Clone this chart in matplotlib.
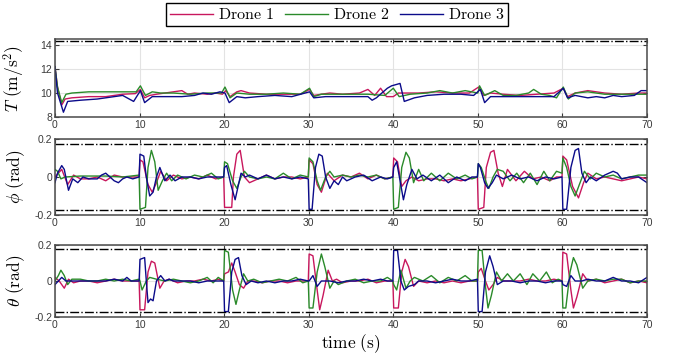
import numpy as np
import matplotlib
matplotlib.use("Agg")
import matplotlib.pyplot as plt

plt.rcParams['mathtext.fontset'] = 'cm'
plt.rcParams['font.family'] = ['Liberation Sans', 'DejaVu Sans']
plt.rcParams['axes.unicode_minus'] = False

# Drone colours and legend names
colors = ['#c8175d', '#2a8a2a', '#0b0b8a']
names = [r'$\mathrm{Drone\ 1}$', r'$\mathrm{Drone\ 2}$', r'$\mathrm{Drone\ 3}$']

# thrust T (m/s^2), (time, value) knots
thrust_d1 = [(0, 12.2), (0.3, 10.5), (0.8, 9.0), (1.2, 9.5), (2, 9.6), (4, 9.7), (6, 9.7), (8, 9.9),
             (9.5, 9.95), (10.1, 10.3), (10.6, 9.6), (11.2, 9.8), (12, 9.9), (13, 10.0), (14, 10.1),
             (15, 10.2), (15.7, 9.9), (16.5, 10.0), (18, 9.9), (19, 10.0), (19.8, 9.9), (20.2, 10.2),
             (20.7, 9.7), (21.5, 10.1), (22, 10.2), (23, 10.0), (25, 9.9), (27, 9.9), (29, 9.9),
             (30.1, 10.3), (30.6, 9.8), (31.5, 9.9), (32.5, 10.0), (34, 9.9), (36, 10.0), (37, 10.3),
             (37.8, 9.8), (38.5, 10.4), (39.2, 9.7), (40, 9.7), (40.6, 10.0), (41.5, 10.0), (43, 10.0),
             (45, 10.1), (47, 10.0), (49, 10.0), (50.1, 10.5), (50.7, 9.8), (51.5, 10.0), (53, 9.9),
             (55, 9.8), (57, 9.9), (59, 10.0), (60.1, 10.4), (60.6, 9.7), (61.5, 10.0), (63, 10.2),
             (65, 10.0), (67, 9.9), (69, 10.0), (70, 10.0)]
thrust_d2 = [(0, 12.2), (0.3, 10.5), (0.8, 9.2), (1.3, 9.9), (2, 10.0), (4, 10.1), (6, 10.1), (8, 10.1),
             (9.6, 10.1), (10.1, 10.6), (10.7, 9.8), (11.5, 10.1), (12.5, 10.0), (14, 10.0), (16, 9.9),
             (18, 10.0), (19.7, 10.0), (20.1, 10.5), (20.7, 9.6), (21.5, 10.0), (23, 9.9), (25, 9.9),
             (27, 10.0), (29, 9.9), (30.1, 10.4), (30.6, 9.7), (31.5, 9.9), (33, 9.9), (35, 9.9),
             (37, 9.9), (39, 9.8), (40, 10.4), (40.7, 9.7), (42, 9.9), (44, 10.0), (45.5, 10.2),
             (47, 10.0), (48.5, 10.2), (50, 10.0), (50.2, 10.6), (50.8, 9.8), (52, 10.2), (53, 9.8),
             (54.5, 9.8), (56, 10.0), (56.6, 10.3), (57.5, 9.9), (58.5, 9.8), (59.3, 9.6), (60.1, 10.5),
             (60.7, 9.5), (61.5, 10.0), (63, 10.1), (65, 9.9), (67, 9.9), (69, 9.9), (70, 9.9)]
thrust_d3 = [(0, 12.2), (0.3, 10.0), (1.0, 8.4), (1.5, 9.3), (3, 9.4), (5, 9.5), (7, 9.7), (8, 9.8),
             (9.3, 9.3), (10.1, 10.2), (10.6, 9.2), (11.5, 9.7), (13, 9.7), (15, 9.7), (16.5, 9.8),
             (17.5, 10.0), (18.5, 9.9), (19.5, 10.1), (20.1, 10.0), (20.6, 9.2), (21.5, 9.7), (22.5, 9.6),
             (24, 9.7), (26, 9.8), (28, 9.7), (30.1, 10.1), (30.6, 9.6), (32, 9.7), (34, 9.7), (36, 9.7),
             (37, 9.7), (37.5, 9.4), (38, 9.6), (39.3, 10.4), (39.8, 10.6), (40.3, 10.7), (40.8, 10.8),
             (41.3, 9.3), (42.5, 9.6), (44, 9.8), (46, 9.9), (48, 9.9), (49.5, 9.8), (50.3, 10.3),
             (50.8, 9.2), (51.5, 9.7), (53, 9.7), (55, 9.7), (57, 9.7), (59, 9.7), (60.1, 10.4),
             (60.6, 9.6), (61.5, 9.8), (63, 9.6), (64, 9.7), (65, 9.6), (66, 9.8), (67, 9.7),
             (68.5, 9.8), (69.3, 10.2), (70, 10.2)]

# roll phi (rad)
phi_d1 = [(0, 0.0), (0.4, 0.02), (0.8, 0.04), (1.5, -0.04), (2.2, 0.01), (3, -0.01), (4, -0.01), (5, 0.0),
          (6, -0.02), (7, 0.01), (8, 0.0), (9, 0.0), (9.95, 0.0), (10.05, 0.09), (10.4, 0.08), (11.0, -0.04),
          (11.5, -0.08), (12.0, -0.03), (12.5, 0.03), (13.2, -0.02), (14, 0.01), (15, -0.01), (16, 0.0),
          (17, -0.01), (18, 0.01), (19, -0.01), (19.95, 0.0), (20.05, -0.16), (20.9, -0.16), (21.1, 0.0),
          (21.5, 0.12), (21.9, 0.14), (22.4, 0.0), (23, -0.03), (24, -0.01), (25, 0.01), (26, -0.01),
          (27, 0.0), (28, 0.0), (29, -0.01), (29.95, 0.0), (30.05, 0.09), (30.5, 0.07), (31.0, -0.04),
          (31.5, -0.08), (32.2, 0.02), (33, -0.02), (34, 0.01), (35, 0.0), (36, 0.02), (37, -0.01),
          (38, 0.01), (39, -0.01), (39.95, 0.0), (40.05, 0.10), (40.5, 0.08), (41.0, -0.05), (41.5, -0.02),
          (42.2, 0.0), (43, -0.02), (44, -0.01), (45, -0.01), (46, -0.02), (47, -0.01), (48, -0.02),
          (49, -0.01), (49.95, 0.0), (50.05, -0.17), (50.7, -0.16), (51.0, 0.05), (51.5, 0.13), (51.9, 0.14),
          (52.4, 0.02), (52.9, -0.05), (53.5, 0.04), (54.5, -0.02), (55.5, 0.03), (56.5, -0.01), (57.5, 0.0),
          (58.5, -0.02), (59.3, 0.0), (59.95, 0.0), (60.05, 0.11), (60.5, 0.09), (61.2, -0.05), (61.9, -0.11),
          (62.5, -0.03), (63, 0.02), (64, -0.01), (65, 0.0), (66, -0.01), (67, -0.02), (68, -0.01),
          (69, 0.0), (70, -0.01)]
phi_d2 = [(0, 0.04), (0.3, 0.03), (0.7, -0.01), (1.2, 0.0), (3, 0.005), (6, 0.005), (8, 0.0), (9, 0.005),
          (9.95, 0.01), (10.05, -0.17), (10.7, -0.16), (11.0, 0.05), (11.4, 0.14), (11.8, 0.08), (12.2, -0.07),
          (12.7, -0.02), (13.2, 0.02), (13.8, -0.02), (14.5, 0.01), (15.5, -0.01), (16.5, 0.01), (17.5, 0.0),
          (18.5, 0.02), (19.3, -0.01), (19.95, 0.0), (20.05, 0.08), (20.4, 0.07), (21.0, -0.02), (21.5, -0.06),
          (22.0, 0.0), (22.4, 0.03), (23, 0.0), (24, -0.01), (25, 0.0), (26, -0.01), (27, 0.02), (28, -0.01),
          (29, 0.01), (29.95, 0.0), (30.05, 0.10), (30.5, 0.08), (31.0, -0.02), (31.4, -0.07), (32.0, 0.0),
          (32.5, 0.03), (33, 0.0), (34, 0.01), (35, 0.0), (36, 0.01), (37, 0.0), (38, 0.01), (39, -0.01),
          (39.95, 0.0), (40.05, -0.17), (40.6, -0.16), (41.0, 0.05), (41.5, 0.13), (41.9, 0.1), (42.4, -0.03),
          (43, 0.04), (43.6, -0.02), (44.5, 0.02), (45.5, -0.02), (46.5, 0.02), (47.5, -0.01), (48.5, 0.01),
          (49.3, -0.01), (49.95, 0.0), (50.05, 0.07), (50.4, 0.05), (51.0, -0.03), (51.3, -0.06), (51.8, 0.0),
          (52.3, 0.04), (53, 0.03), (53.8, -0.02), (54.6, 0.02), (55.4, -0.03), (56.2, 0.02), (57, -0.04),
          (57.8, 0.03), (58.5, -0.02), (59.3, 0.03), (59.95, 0.02), (60.05, 0.10), (60.5, 0.05), (61.0, -0.05),
          (61.5, -0.10), (62.0, -0.04), (62.6, 0.03), (63.3, -0.01), (64, 0.02), (65, 0.0), (66, 0.01),
          (67, -0.01), (68, 0.0), (69, 0.01), (70, 0.01)]
phi_d3 = [(0, -0.03), (0.3, 0.02), (0.8, 0.06), (1.1, 0.04), (1.6, -0.07), (2.1, -0.01), (2.7, -0.03),
          (3.3, 0.0), (4, -0.01), (5, -0.01), (5.5, 0.01), (6, 0.02), (6.5, 0.0), (7, -0.02), (7.5, -0.03),
          (8, -0.01), (8.5, 0.0), (9.2, -0.01), (9.95, 0.0), (10.05, 0.12), (10.5, 0.11), (10.8, 0.0),
          (11.2, -0.10), (11.6, -0.08), (12.0, 0.0), (12.4, 0.05), (13.0, -0.02), (13.6, 0.01), (14.2, -0.02),
          (15, 0.0), (16, 0.0), (17, -0.01), (18, 0.0), (19, 0.0), (19.95, 0.0), (20.05, 0.05), (20.3, 0.06),
          (20.8, -0.04), (21.3, -0.12), (21.6, -0.06), (22.0, 0.02), (22.5, 0.0), (23, 0.01), (24, -0.01),
          (25, 0.01), (26, -0.01), (27, 0.0), (28, -0.01), (29, 0.0), (29.95, -0.01), (30.05, -0.17),
          (30.4, -0.17), (30.8, 0.05), (31.2, 0.12), (31.6, 0.11), (32.0, 0.0), (32.5, -0.06), (33, -0.02),
          (33.5, -0.04), (34, 0.0), (34.5, -0.02), (35.5, 0.0), (36.5, 0.01), (37.5, -0.02), (38.5, 0.0),
          (39.3, -0.01), (39.95, 0.0), (40.05, 0.05), (40.4, 0.08), (40.8, -0.02), (41.2, -0.12), (41.6, -0.04),
          (42.2, 0.04), (42.8, -0.01), (43.5, 0.01), (44.5, -0.02), (45.5, 0.01), (46.5, -0.03), (47.5, 0.0),
          (48.5, -0.02), (49.3, 0.0), (49.95, 0.0), (50.05, 0.07), (50.3, 0.05), (50.8, -0.03), (51.2, -0.06),
          (51.7, -0.03), (52.2, 0.01), (53, -0.01), (54, 0.01), (55, -0.01), (56, 0.0), (57, -0.02), (58, 0.0),
          (59, -0.01), (59.95, 0.0), (60.05, -0.17), (60.5, -0.17), (61.0, 0.05), (61.5, 0.14), (61.9, 0.15),
          (62.3, 0.02), (62.8, -0.03), (63.3, 0.0), (64, -0.02), (65, 0.01), (66, 0.03), (66.5, 0.02),
          (67, -0.01), (68, 0.0), (69, 0.0), (70, -0.03)]

# pitch theta (rad)
theta_d1 = [(0, 0.02), (0.5, 0.0), (1.1, -0.04), (1.6, 0.01), (2.2, -0.01), (3, 0.0), (4, 0.0), (5, -0.01),
            (6, 0.0), (7, 0.01), (8, 0.0), (9, 0.0), (9.95, 0.0), (10.05, -0.16), (10.6, -0.16), (11.0, 0.05),
            (11.4, 0.11), (11.8, 0.1), (12.4, -0.04), (12.9, 0.0), (13.5, 0.01), (14.5, -0.01), (15.5, 0.0),
            (16.5, 0.0), (17.5, 0.01), (18.5, 0.0), (19.3, 0.01), (19.95, 0.0), (20.05, 0.04), (20.5, 0.05),
            (20.9, 0.1), (21.3, 0.05), (21.8, -0.02), (22.3, -0.04), (22.8, 0.0), (23.5, 0.0), (24.5, -0.01),
            (25.5, 0.0), (26.5, 0.0), (27.5, -0.01), (28.5, 0.0), (29.3, 0.0), (29.95, 0.0), (30.05, 0.15),
            (30.5, 0.14), (31.0, -0.05), (31.3, -0.16), (31.7, -0.08), (32.3, 0.06), (32.8, 0.0), (33.3, 0.01),
            (34, -0.01), (35, 0.0), (36, 0.0), (37, 0.01), (38, -0.01), (39, 0.0), (39.95, 0.0), (40.05, -0.15),
            (40.6, -0.15), (41.0, 0.05), (41.4, 0.12), (41.8, 0.08), (42.4, -0.03), (43, 0.0), (44, -0.01),
            (45, 0.0), (46, -0.01), (47, 0.0), (48, -0.01), (49, 0.0), (49.95, 0.0), (50.05, 0.05), (50.4, 0.07),
            (50.9, 0.0), (51.3, -0.05), (51.8, -0.02), (52.3, 0.02), (53, 0.0), (54, 0.0), (55, 0.0), (56, 0.01),
            (57, 0.0), (58, 0.0), (59, 0.01), (59.95, 0.0), (60.05, 0.16), (60.5, 0.15), (61.0, -0.05),
            (61.3, -0.15), (61.7, -0.09), (62.4, 0.04), (63, 0.0), (64, 0.01), (65, -0.01), (66, 0.0),
            (67, 0.01), (68, -0.01), (69, 0.0), (70, -0.01)]
theta_d2 = [(0, 0.0), (0.4, 0.03), (0.7, 0.06), (1.1, 0.03), (1.5, -0.02), (2, 0.01), (3, 0.01), (4, 0.0),
            (5, 0.0), (6, 0.01), (7, 0.0), (8, 0.01), (9, 0.0), (9.95, 0.01), (10.05, 0.0), (10.3, -0.05),
            (10.8, 0.0), (11.2, 0.02), (12, 0.01), (13, 0.0), (14, 0.01), (15, 0.0), (16, -0.01), (17, 0.0),
            (18, 0.02), (18.7, -0.01), (19.3, 0.02), (19.95, 0.0), (20.05, 0.17), (20.5, 0.16), (21.0, -0.05),
            (21.4, -0.13), (21.8, -0.05), (22.3, 0.04), (22.8, 0.0), (23.5, 0.01), (24.5, -0.01), (25.5, 0.0),
            (26.5, 0.01), (27.5, 0.0), (28.5, 0.02), (29.3, -0.01), (29.95, 0.0), (30.05, -0.15), (30.5, -0.15),
            (31.0, 0.05), (31.5, 0.15), (31.9, 0.08), (32.5, -0.04), (33, 0.0), (33.5, -0.02), (34.5, 0.0),
            (35.5, 0.01), (36.5, -0.01), (37.5, 0.0), (38.5, 0.0), (39.3, 0.02), (39.95, 0.0), (40.05, -0.02),
            (40.4, -0.05), (40.9, 0.06), (41.5, -0.04), (42.0, 0.0), (42.5, 0.02), (43.5, 0.0), (44.5, 0.03),
            (45.5, -0.01), (46.5, 0.02), (47.5, 0.0), (48.5, 0.03), (49.3, 0.0), (49.95, 0.0), (50.05, 0.17),
            (50.5, 0.17), (50.9, -0.03), (51.2, -0.15), (51.6, -0.08), (52.2, 0.05), (52.8, 0.0), (53.5, 0.04),
            (54.2, 0.0), (55, 0.04), (55.8, -0.02), (56.5, 0.04), (57.3, 0.0), (58.1, 0.05), (58.8, -0.01),
            (59.5, 0.01), (59.95, 0.0), (60.05, -0.15), (60.4, -0.15), (60.9, 0.05), (61.3, 0.13), (61.7, 0.09),
            (62.4, -0.04), (63, 0.0), (64, 0.01), (65, 0.0), (66, 0.01), (67, 0.01), (68, -0.01), (69, 0.0),
            (70, 0.0)]
theta_d3 = [(0, -0.02), (0.4, 0.0), (0.8, 0.02), (1.3, 0.0), (2, 0.0), (3, 0.0), (4, 0.0), (5, 0.0), (6, 0.0),
            (7, 0.01), (8, 0.0), (8.5, 0.02), (9, 0.0), (9.95, 0.0), (10.05, 0.12), (10.6, 0.13), (10.8, 0.0),
            (11.0, -0.12), (11.3, -0.10), (11.6, -0.11), (12.0, 0.0), (12.5, 0.03), (13, 0.0), (13.5, 0.01),
            (14, 0.0), (15, 0.0), (16, 0.0), (17, -0.01), (18, 0.0), (19, 0.0), (19.95, 0.0), (20.05, -0.17),
            (20.5, -0.17), (20.9, 0.05), (21.3, 0.12), (21.7, 0.13), (22.1, 0.03), (22.6, -0.02), (23.2, 0.0),
            (24, -0.01), (25, 0.0), (26, -0.01), (27, 0.0), (28, 0.0), (29, 0.01), (29.95, 0.0), (30.05, 0.0),
            (30.5, 0.03), (31.0, -0.03), (31.5, 0.0), (32.5, 0.0), (33.5, -0.01), (34.5, 0.0), (35.5, 0.0),
            (36.5, 0.01), (37.5, 0.0), (38.5, 0.01), (39.3, 0.0), (39.95, 0.0), (40.05, 0.17), (40.5, 0.17),
            (40.9, 0.0), (41.3, -0.05), (41.8, -0.03), (42.5, -0.02), (43, 0.0), (44, 0.0), (45, -0.01),
            (46, 0.0), (47, 0.01), (48, 0.0), (49, 0.0), (49.95, 0.01), (50.05, -0.17), (50.5, -0.17),
            (50.9, 0.05), (51.4, 0.14), (51.8, 0.08), (52.3, -0.02), (53, 0.0), (54, 0.0), (55, -0.01), (56, 0.0),
            (57, 0.0), (58, -0.01), (59, 0.0), (59.95, 0.0), (60.05, -0.02), (60.5, -0.03), (61.0, 0.03),
            (61.5, 0.0), (62.3, 0.0), (63, 0.01), (64, 0.0), (65, 0.0), (66, 0.02), (67, 0.0), (68, 0.0),
            (69, -0.01), (70, 0.02)]

thrust_limit = 14.3
angle_limit = 0.175

panels = [
    ([thrust_d1, thrust_d2, thrust_d3], (8, 14.5), [8, 10, 12, 14], [thrust_limit],
     r'$T\ (\mathrm{m/s^2})$'),
    ([phi_d1, phi_d2, phi_d3], (-0.2, 0.2), [-0.2, 0, 0.2], [angle_limit, -angle_limit],
     r'$\phi\ (\mathrm{rad})$'),
    ([theta_d1, theta_d2, theta_d3], (-0.2, 0.2), [-0.2, 0, 0.2], [angle_limit, -angle_limit],
     r'$\theta\ (\mathrm{rad})$'),
]

# axes boxes in figure fractions (left, bottom, width, height)
boxes = [(0.0812, 0.6713, 0.8745, 0.2190),
         (0.0812, 0.3961, 0.8745, 0.2135),
         (0.0812, 0.1096, 0.8745, 0.2022)]

fig = plt.figure(figsize=(6.77, 3.56), dpi=100)

handles = []
for i, (series, ylim, yticks, limits, ylabel) in enumerate(panels):
    ax = fig.add_axes(boxes[i])
    for j, data in enumerate(series):
        t, v = np.array(data).T
        h, = ax.plot(t, v, color=colors[j], linewidth=1.0, label=names[j])
        if i == 0:
            handles.append(h)
    for lim in limits:
        ax.axhline(lim, color='black', linestyle='-.', linewidth=1.0)
    ax.set_xlim(0, 70)
    ax.set_ylim(*ylim)
    ax.set_xticks(range(0, 71, 10))
    ax.set_yticks(yticks)
    ax.set_yticklabels([('%g' % y) for y in yticks])
    ax.grid(True, color='#e3e3e3', linewidth=0.8)
    ax.set_axisbelow(True)
    ax.tick_params(direction='in', top=True, right=True, length=3, width=0.8,
                   labelsize=7.5, labelcolor='#3a3a3a', color='#3a3a3a', pad=2)
    for sp in ax.spines.values():
        sp.set_color('#4a4a4a')
        sp.set_linewidth(1.1)
    ax.set_ylabel(ylabel, fontsize=12.5)
    ax.yaxis.set_label_coords(-0.048, 0.5)
    if i == 2:
        ax.set_xlabel(r'$\mathrm{time\ (s)}$', fontsize=12.5)
        ax.xaxis.set_label_coords(0.5, -0.21)

fig.legend(handles=handles, loc='upper center', bbox_to_anchor=(0.498, 1.0), ncol=3,
           fontsize=11.5, frameon=True, fancybox=False, edgecolor='black', framealpha=1,
           handlelength=2.7, handletextpad=0.3, columnspacing=0.7, borderpad=0.25,
           borderaxespad=0.2)

fig.savefig('out.png', dpi=100)
